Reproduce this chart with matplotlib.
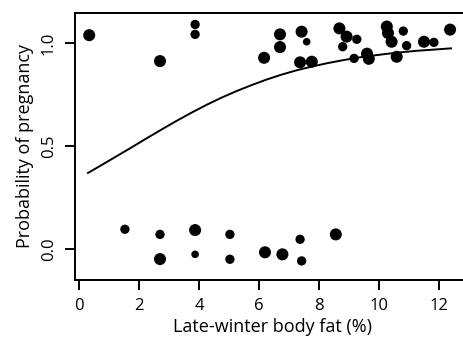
import matplotlib
matplotlib.use("Agg")
import matplotlib.pyplot as plt

plt.rcParams["font.family"] = ["Open Sans", "DejaVu Sans"]

# pregnant (top group) and not pregnant (bottom group), jittered as in the figure
fat_top = [0.34, 2.70, 3.87, 3.87, 6.17, 6.70, 6.70, 7.42, 7.59, 7.37, 7.76,
           8.68, 8.92, 8.79, 9.26, 9.17, 9.60, 9.66, 10.26, 10.30, 10.81,
           10.42, 10.92, 10.59, 11.50, 11.83, 12.37]
prob_top = [1.04, 0.914, 1.092, 1.044, 0.930, 1.044, 0.982, 1.057, 1.008, 0.908, 0.911,
            1.073, 1.033, 0.984, 1.020, 0.927, 0.950, 0.925, 1.082, 1.050, 1.060,
            1.008, 0.989, 0.935, 1.008, 1.005, 1.067]
size_top = ["L", "L", "M", "M", "L", "L", "L", "L", "S", "L", "L",
            "L", "L", "M", "M", "M", "L", "L", "L", "L", "M",
            "L", "M", "L", "L", "M", "L"]

fat_bot = [1.53, 2.70, 2.70, 3.87, 3.87, 5.03, 5.03, 6.20, 6.78, 7.37, 7.42, 8.56]
prob_bot = [0.096, 0.071, -0.049, 0.092, -0.026, 0.071, -0.050, -0.016, -0.026,
            0.047, -0.058, 0.071]
size_bot = ["M", "M", "L", "L", "S", "M", "M", "L", "L", "M", "M", "L"]

# fitted logistic curve
curve_x = [0.3, 0.75, 1.25, 1.75, 2.25, 2.75, 3.25, 3.75, 4.25, 4.75, 5.25,
           5.75, 6.25, 6.75, 7.25, 7.75, 8.25, 8.75, 9.25, 9.75, 10.25,
           10.75, 11.25, 11.75, 12.4]
curve_y = [0.370, 0.408, 0.451, 0.494, 0.538, 0.581, 0.623, 0.663, 0.701,
           0.736, 0.768, 0.797, 0.824, 0.848, 0.869, 0.887, 0.903, 0.917,
           0.930, 0.940, 0.949, 0.957, 0.964, 0.969, 0.976]

SIZES = {"L": 75, "M": 45, "S": 30}

fig = plt.figure(figsize=(4.63, 3.42), dpi=100)
ax = fig.add_axes([75 / 463, 62 / 342, 395 / 463, 267 / 342])

ax.scatter(fat_top + fat_bot, prob_top + prob_bot,
           s=[SIZES[k] for k in size_top + size_bot],
           color="black", linewidths=0, zorder=3)
ax.plot(curve_x, curve_y, color="black", lw=1.4, zorder=2)

ax.set_xlim(-4 / 30, 395 / 30 - 4 / 30)
ax.set_ylim(-31 / 205.6, 236 / 205.6)
ax.set_xticks([0, 2, 4, 6, 8, 10, 12])
ax.set_yticks([0.0, 0.5, 1.0])
ax.set_yticklabels(["0.0", "0.5", "1.0"], rotation=90, va="center")

for side in ["left", "bottom", "top"]:
    ax.spines[side].set_linewidth(1.4)
ax.spines["right"].set_visible(False)
ax.tick_params(direction="out", length=7, width=1.4, labelsize=12, pad=6)

ax.set_xlabel("Late-winter body fat (%)", fontsize=13, labelpad=3)
ax.set_ylabel("Probability of pregnancy", fontsize=13, labelpad=5)

fig.savefig("out.png", dpi=100)
